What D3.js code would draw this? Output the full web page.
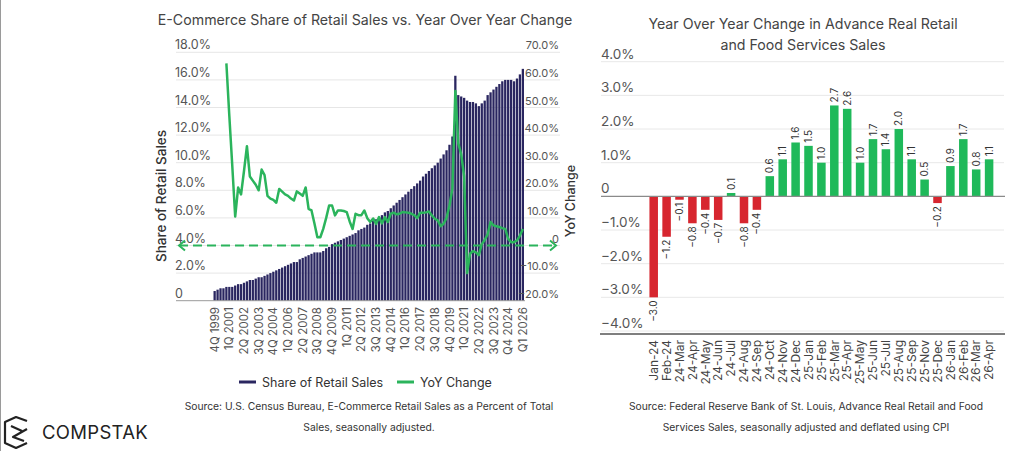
<!DOCTYPE html>
<html><head><meta charset="utf-8">
<script src="https://cdn.jsdelivr.net/npm/d3@7"></script>
<style>
body{margin:0;background:#fff;}
svg{display:block;font-family:Inter,"Noto Sans",sans-serif;}
</style></head><body>
<svg id="c" width="1024" height="451"></svg>
<script>
// ---------- LEFT CHART DATA ----------
const quarters = [
 "1999Q4",
 "2000Q1","2000Q2","2000Q3","2000Q4","2001Q1","2001Q2","2001Q3","2001Q4",
 "2002Q1","2002Q2","2002Q3","2002Q4","2003Q1","2003Q2","2003Q3","2003Q4",
 "2004Q1","2004Q2","2004Q3","2004Q4","2005Q1","2005Q2","2005Q3","2005Q4",
 "2006Q1","2006Q2","2006Q3","2006Q4","2007Q1","2007Q2","2007Q3","2007Q4",
 "2008Q1","2008Q2","2008Q3","2008Q4","2009Q1","2009Q2","2009Q3","2009Q4",
 "2010Q1","2010Q2","2010Q3","2010Q4","2011Q1","2011Q2","2011Q3","2011Q4",
 "2012Q1","2012Q2","2012Q3","2012Q4","2013Q1","2013Q2","2013Q3","2013Q4",
 "2014Q1","2014Q2","2014Q3","2014Q4","2015Q1","2015Q2","2015Q3","2015Q4",
 "2016Q1","2016Q2","2016Q3","2016Q4","2017Q1","2017Q2","2017Q3","2017Q4",
 "2018Q1","2018Q2","2018Q3","2018Q4","2019Q1","2019Q2","2019Q3","2019Q4",
 "2020Q1","2020Q2","2020Q3","2020Q4","2021Q1","2021Q2","2021Q3","2021Q4",
 "2022Q1","2022Q2","2022Q3","2022Q4","2023Q1","2023Q2","2023Q3","2023Q4",
 "2024Q1","2024Q2","2024Q3","2024Q4","2025Q1","2025Q2","2025Q3","2025Q4",
 "2026Q1"
];
// E-commerce share of retail sales (%)
const shareValues = [
 0.7,
 0.8,0.9,0.9,1.0,   1.0,1.0,1.1,1.2,
 1.2,1.3,1.4,1.5,   1.5,1.6,1.7,1.7,
 1.8,1.9,2.0,2.1,   2.2,2.3,2.4,2.5,
 2.6,2.7,2.8,2.8,   3.0,3.1,3.2,3.3,
 3.4,3.5,3.5,3.5,   3.6,3.8,3.9,4.1,
 4.2,4.3,4.4,4.5,   4.6,4.7,4.8,4.9,
 5.1,5.2,5.3,5.5,   5.6,5.8,5.9,6.0,
 6.2,6.4,6.5,6.7,   6.9,7.1,7.3,7.5,
 7.7,7.9,8.1,8.3,   8.5,8.7,9.0,9.2,
 9.4,9.6,9.8,10.0,  10.3,10.6,10.9,11.3,
 11.9,16.3,14.9,14.8, 14.7,14.5,14.4,14.4,
 14.3,14.1,14.3,14.5, 14.9,15.1,15.3,15.5,
 15.7,15.9,16.0,16.0, 16.0,15.9,16.1,16.4,
 16.8
];
// Year-over-year change (%), first available at 2000Q4
const yoyValues = [
 null,
 null,null,null,66,  47,29,10.5,21,
 18.5,27,36,25,      23.5,22,20,27.5,
 25.5,18,17,16.5,    15.5,20.5,19.5,18.5,
 18,17,16.3,19.6,    18.8,18,21,13.3,
 12.7,8,3,3,         6,10,14.5,14.5,
 10.9,12.7,12.7,12.5, 12.1,8.7,6.0,11.5,
 11,11,12.7,9.9,     8.5,9.8,7.8,10.3,
 8.0,10.3,8.5,11.5,  11.9,11.3,11.5,12.1,
 12.0,11.9,11.5,11.0, 9.9,11.9,11.9,12.0,
 12.3,10.9,9.7,9.1,  7.0,7.9,10.0,14.5,
 20.6,56,37,33,      25,-10,-3,-2,
 -2.5,-3.5,0.5,2,    4,8.5,7.3,7.0,
 6.7,6.3,6.0,2.4,    1.2,1.2,1.8,3.6,
 6.0
];
const tickQuarters = ["1999Q4","2001Q1","2002Q2","2003Q3","2004Q4","2006Q1","2007Q2","2008Q3","2009Q4","2011Q1","2012Q2","2013Q3","2014Q4","2016Q1","2017Q2","2018Q3","2019Q4","2021Q1","2022Q2","2023Q3","2024Q4","2026Q1"];
const tickLabels = ["4Q 1999","1Q 2001","2Q 2002","3Q 2003","4Q 2004","1Q 2006","2Q 2007","3Q 2008","4Q 2009","1Q 2011","2Q 2012","3Q 2013","4Q 2014","1Q 2016","2Q 2017","3Q 2018","4Q 2019","1Q 2021","2Q 2022","3Q 2023","Q4 2024","Q1 2026"];
const shareTicks = [0,2,4,6,8,10,12,14,16,18];
const yoyTicks = [-20,-10,0,10,20,30,40,50,60,70];

// ---------- RIGHT CHART DATA ----------
const months = ["Jan-24","Feb-24","24-Mar","24-Apr","24-May","24-Jun","24-Jul","24-Aug","24-Sep","24-Oct","24-Nov","24-Dec","25-Jan","25-Feb","25-Mar","25-Apr","25-May","25-Jun","25-Jul","25-Aug","25-Sep","25-Nov","25-Dec","26-Jan","26-Feb","26-Mar","26-Apr"];
const retailYoY = [-3.0,-1.2,-0.1,-0.8,-0.4,-0.7,0.1,-0.8,-0.4,0.6,1.1,1.6,1.5,1.0,2.7,2.6,1.0,1.7,1.4,2.0,1.1,0.5,-0.2,0.9,1.7,0.8,1.1];
const retailTicks = [-4,-3,-2,-1,0,1,2,3,4];

// ---------- DRAW ----------
const svg = d3.select("#c");
const NAVY = "#2a2660", GREEN = "#2bb45c", RED = "#d7262f", BGREEN = "#1fb95a";

svg.append("line").attr("x1",0.5).attr("x2",0.5).attr("y1",0).attr("y2",451).attr("stroke","#9a9a9a");

// ===== Left chart =====
const L = svg.append("g");
const xL = d3.scaleBand().domain(quarters).range([213.5, 524]).paddingInner(0.22);
const yS = d3.scaleLinear().domain([0,18]).range([300.7, 52.3]);
const yY = d3.scaleLinear().domain([-20,70]).range([300.7, 52.3]);

L.append("text").attr("x",365).attr("y",24.5).attr("text-anchor","middle")
 .attr("font-size",14.2).attr("fill","#444").text("E-Commerce Share of Retail Sales vs. Year Over Year Change");

L.selectAll(".gl").data(shareTicks.filter(t=>t>0)).join("line")
 .attr("x1",176).attr("x2",560).attr("y1",d=>yS(d)).attr("y2",d=>yS(d))
 .attr("stroke","#e6e6e6").attr("stroke-width",1);

L.selectAll(".bar").data(quarters.map((q,i)=>({q,v:shareValues[i]}))).join("rect")
 .attr("x",d=>xL(d.q)).attr("width",xL.bandwidth())
 .attr("y",d=>yS(d.v)).attr("height",d=>yS(0)-yS(d.v)).attr("fill",NAVY);

L.append("line").attr("x1",176).attr("x2",525).attr("y1",yS(0)).attr("y2",yS(0))
 .attr("stroke","#9a9a9a").attr("stroke-width",1);

L.selectAll(".lt").data(shareTicks).join("text")
 .attr("x",175).attr("y",d=>yS(d)-3).attr("font-size",12.5).attr("fill","#555")
 .text(d=>d===0?"0":d3.format(".1f")(d)+"%");
L.selectAll(".rt").data(yoyTicks).join("text")
 .attr("x",559).attr("y",d=>yY(d)-3).attr("text-anchor","end").attr("font-size",11).attr("fill","#555")
 .text(d=>d===0?"0":d3.format(".1f")(d)+"%");

const y0 = yY(0);
L.append("line").attr("x1",179).attr("x2",555).attr("y1",y0).attr("y2",y0)
 .attr("stroke",GREEN).attr("stroke-width",2).attr("stroke-dasharray","9,5");
L.append("polyline").attr("points",`185,${y0-5} 179,${y0} 185,${y0+5}`).attr("fill","none").attr("stroke",GREEN).attr("stroke-width",2);
L.append("polyline").attr("points",`550,${y0-5} 556,${y0} 550,${y0+5}`).attr("fill","none").attr("stroke",GREEN).attr("stroke-width",2);

const line = d3.line().defined(d=>d.v!==null).x(d=>xL(d.q)+xL.bandwidth()/2).y(d=>yY(d.v));
L.append("path").datum(quarters.map((q,i)=>({q,v:yoyValues[i]})))
 .attr("d",line).attr("fill","none").attr("stroke",GREEN).attr("stroke-width",2.5).attr("stroke-linejoin","round");

L.selectAll(".xt").data(tickQuarters).join("text")
 .attr("transform",d=>`translate(${xL(d)+xL.bandwidth()/2},307) rotate(-90)`)
 .attr("text-anchor","end").attr("dy","0.35em").attr("font-size",11.5).attr("fill","#555")
 .text((d,i)=>tickLabels[i]);

L.append("text").attr("transform","translate(166,196) rotate(-90)").attr("text-anchor","middle")
 .attr("font-size",13.5).attr("font-weight",500).attr("fill","#333").text("Share of Retail Sales");
L.append("text").attr("transform","translate(575,201) rotate(-90)").attr("text-anchor","middle")
 .attr("font-size",12.5).attr("font-weight",500).attr("fill","#333").text("YoY Change");

L.append("line").attr("x1",239).attr("x2",256).attr("y1",382).attr("y2",382).attr("stroke",NAVY).attr("stroke-width",3);
L.append("text").attr("x",262).attr("y",386.5).attr("font-size",12.5).attr("fill","#333").text("Share of Retail Sales");
L.append("line").attr("x1",397).attr("x2",414).attr("y1",382).attr("y2",382).attr("stroke",GREEN).attr("stroke-width",3);
L.append("text").attr("x",420).attr("y",386.5).attr("font-size",12.5).attr("fill","#333").text("YoY Change");

L.append("text").attr("x",369).attr("y",410).attr("text-anchor","middle").attr("font-size",10.3).attr("fill","#333")
 .text("Source: U.S. Census Bureau, E-Commerce Retail Sales as a Percent of Total");
L.append("text").attr("x",369).attr("y",431).attr("text-anchor","middle").attr("font-size",10.3).attr("fill","#333")
 .text("Sales, seasonally adjusted.");

// ===== Right chart =====
const R = svg.append("g");
const xR = d3.scaleBand().domain(months).range([647.25, 995.55]).paddingInner(0.34).paddingOuter(0.17);
const yR = d3.scaleLinear().domain([-4,4]).range([331, 61.7]);

R.append("text").attr("x",803).attr("y",29).attr("text-anchor","middle").attr("font-size",14.2).attr("fill","#444")
 .text("Year Over Year Change in Advance Real Retail");
R.append("text").attr("x",803).attr("y",49.5).attr("text-anchor","middle").attr("font-size",14.2).attr("fill","#444")
 .text("and Food Services Sales");

R.selectAll(".g").data(retailTicks.filter(t=>t!==0)).join("line")
 .attr("x1",601).attr("x2",1004).attr("y1",d=>yR(d)).attr("y2",d=>yR(d)).attr("stroke","#e8e8e8");
R.selectAll(".yl").data(retailTicks).join("text")
 .attr("x",601).attr("y",d=>yR(d)-3).attr("font-size",13.5).attr("fill","#555")
 .text(d=>d===0?"0":d3.format(".1f")(d)+"%");

const rd = months.map((m,i)=>({m,v:retailYoY[i]}));
R.selectAll(".rb").data(rd).join("rect")
 .attr("x",d=>xR(d.m)).attr("width",xR.bandwidth())
 .attr("y",d=>yR(Math.max(0,d.v))).attr("height",d=>Math.abs(yR(d.v)-yR(0)))
 .attr("fill",d=>d.v<0?RED:BGREEN);

R.append("line").attr("x1",601).attr("x2",1005).attr("y1",yR(0)).attr("y2",yR(0)).attr("stroke","#8a8a8a").attr("stroke-width",1.2);
R.append("line").attr("x1",600).attr("x2",1005).attr("y1",334).attr("y2",334).attr("stroke","#555").attr("stroke-width",1.5);

R.selectAll(".vl").data(rd).join("text")
 .attr("transform",d=>{const cx=xR(d.m)+xR.bandwidth()/2; const y=d.v<0?yR(d.v)+3:yR(d.v)-3; return `translate(${cx},${y}) rotate(-90)`;})
 .attr("text-anchor",d=>d.v<0?"end":"start").attr("dy","0.35em").attr("font-size",10).attr("fill","#333")
 .text(d=>d3.format(".1f")(d.v));

R.selectAll(".xl").data(months).join("text")
 .attr("transform",d=>`translate(${xR(d)+xR.bandwidth()/2},340) rotate(-90)`)
 .attr("text-anchor","end").attr("dy","0.35em").attr("font-size",12).attr("fill","#444").text(d=>d);

R.append("text").attr("x",806).attr("y",410).attr("text-anchor","middle").attr("font-size",10.3).attr("fill","#333")
 .text("Source: Federal Reserve Bank of St. Louis, Advance Real Retail and Food");
R.append("text").attr("x",806).attr("y",431).attr("text-anchor","middle").attr("font-size",10.3).attr("fill","#333")
 .text("Services Sales, seasonally adjusted and deflated using CPI");

// ===== Logo =====
const G = svg.append("g");
G.append("path").attr("d","M27,421 L16,417 L5,422 L5,443 L16,448 L27,443 M27,429 L13,437 L24,441 M11,426 L22,431")
 .attr("fill","none").attr("stroke","#222").attr("stroke-width",2.2).attr("stroke-linejoin","round");
G.append("text").attr("x",42).attr("y",439).attr("font-size",18.5).attr("letter-spacing",0.3).attr("fill","#222").text("COMPSTAK");
</script>
</body></html>
